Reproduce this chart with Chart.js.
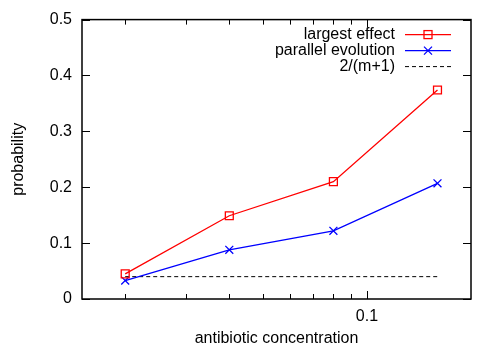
<!DOCTYPE html>
<html>
<head>
<meta charset="utf-8">
<script src="https://cdn.jsdelivr.net/npm/chart.js@4/dist/chart.umd.min.js"></script>
<style>
  html, body { margin: 0; padding: 0; background: #fff; }
  #wrap { width: 498px; height: 348px; }
</style>
</head>
<body>
<div id="wrap"><canvas id="chart"></canvas></div>
<script>
// data
const concentrations = [0.02, 0.04, 0.08, 0.16];
const largestEffect = [0.045, 0.149, 0.21, 0.374];
const parallelEvolution = [0.033, 0.088, 0.122, 0.207];
const expected = [0.04, 0.04, 0.04, 0.04]; // 2/(m+1)
const xTicks = [0.02, 0.03, 0.04, 0.05, 0.06, 0.07, 0.08, 0.09, 0.1];
const xLabelled = [0.1];
const yTicks = [0, 0.1, 0.2, 0.3, 0.4, 0.5];

const FONT = 'Liberation Sans';
Chart.defaults.font.family = FONT;
Chart.defaults.font.size = 16;
Chart.defaults.color = '#000';

function pts(ys) {
    return concentrations.map((x, i) => ({ x: x, y: ys[i] }));
}

// gnuplot style frame, inward ticks on all sides, and a legend inside the plot
const framePlugin = {
    id: 'frame',
    afterDraw(chart) {
        const ctx = chart.ctx;
        const a = chart.chartArea;
        const x = chart.scales.x, y = chart.scales.y;
        ctx.save();
        ctx.strokeStyle = '#000';
        ctx.lineWidth = 1.5;
        ctx.strokeRect(a.left, a.top, a.right - a.left, a.bottom - a.top);

        ctx.lineWidth = 1;
        ctx.beginPath();
        xTicks.forEach(v => {
            const px = Math.round(x.getPixelForValue(v)) + 0.5;
            const len = xLabelled.includes(v) ? 8 : 5;
            ctx.moveTo(px, a.bottom); ctx.lineTo(px, a.bottom - len);
            ctx.moveTo(px, a.top); ctx.lineTo(px, a.top + len);
        });
        yTicks.forEach(v => {
            const py = Math.round(y.getPixelForValue(v)) + 0.5;
            ctx.moveTo(a.left, py); ctx.lineTo(a.left + 8, py);
            ctx.moveTo(a.right, py); ctx.lineTo(a.right - 8, py);
        });
        ctx.stroke();

        // legend
        const lineEnd = a.right - 20;
        const lineStart = lineEnd - 46;
        const mid = (lineStart + lineEnd) / 2;
        ctx.font = '16px "' + FONT + '"';
        ctx.textAlign = 'right';
        ctx.textBaseline = 'middle';
        chart.data.datasets.forEach((ds, i) => {
            const ry = a.top + 15 + i * 16;
            ctx.fillStyle = '#000';
            ctx.fillText(ds.label, lineStart - 10, ry);
            ctx.strokeStyle = ds.borderColor;
            ctx.lineWidth = ds.borderWidth;
            ctx.setLineDash(ds.borderDash || []);
            ctx.beginPath();
            ctx.moveTo(lineStart, ry); ctx.lineTo(lineEnd, ry);
            ctx.stroke();
            ctx.setLineDash([]);
            if (ds.pointStyle === 'rect') {
                ctx.strokeRect(mid - 4, ry - 4, 8, 8);
            } else if (ds.pointStyle === 'crossRot') {
                ctx.beginPath();
                ctx.moveTo(mid - 4, ry - 4); ctx.lineTo(mid + 4, ry + 4);
                ctx.moveTo(mid - 4, ry + 4); ctx.lineTo(mid + 4, ry - 4);
                ctx.stroke();
            }
        });
        ctx.restore();
    }
};

new Chart(document.getElementById('chart'), {
    type: 'line',
    data: {
        datasets: [{
            label: 'largest effect',
            data: pts(largestEffect),
            borderColor: 'rgb(255,0,0)',
            borderWidth: 1.3,
            pointStyle: 'rect',
            pointRadius: 5.6,
            pointBorderWidth: 1.3,
            pointBackgroundColor: 'rgba(0,0,0,0)'
        }, {
            label: 'parallel evolution',
            data: pts(parallelEvolution),
            borderColor: 'rgb(0,0,255)',
            borderWidth: 1.3,
            pointStyle: 'crossRot',
            pointRadius: 5.6,
            pointBorderWidth: 1.3
        }, {
            label: '2/(m+1)',
            data: pts(expected),
            borderColor: '#000',
            borderWidth: 1,
            borderDash: [4, 3],
            pointRadius: 0
        }]
    },
    options: {
        responsive: true,
        maintainAspectRatio: false,
        animation: false,
        events: [],
        layout: { padding: { top: 19, right: 27 } },
        plugins: { legend: { display: false }, tooltip: { enabled: false } },
        scales: {
            x: {
                type: 'logarithmic',
                min: 0.015,
                max: 0.2,
                grid: { display: false, drawTicks: false },
                border: { display: false },
                afterBuildTicks: s => { s.ticks = xTicks.map(v => ({ value: v })); },
                afterFit: s => { s.height = 49; },
                ticks: {
                    autoSkip: false,
                    maxRotation: 0,
                    padding: 8,
                    callback: v => xLabelled.includes(v) ? String(v) : ''
                },
                title: {
                    display: true,
                    text: 'antibiotic concentration',
                    padding: { top: 0, bottom: 0 }
                }
            },
            y: {
                min: 0,
                max: 0.5,
                grid: { display: false, drawTicks: false },
                border: { display: false },
                afterBuildTicks: s => { s.ticks = yTicks.map(v => ({ value: v })); },
                afterFit: s => { s.width = 82; },
                ticks: {
                    padding: 10,
                    callback: v => v === 0 ? '0' : v.toFixed(1)
                },
                title: {
                    display: true,
                    text: 'probability',
                    padding: { top: 9, bottom: 0 }
                }
            }
        }
    },
    plugins: [framePlugin]
});
</script>
</body>
</html>
